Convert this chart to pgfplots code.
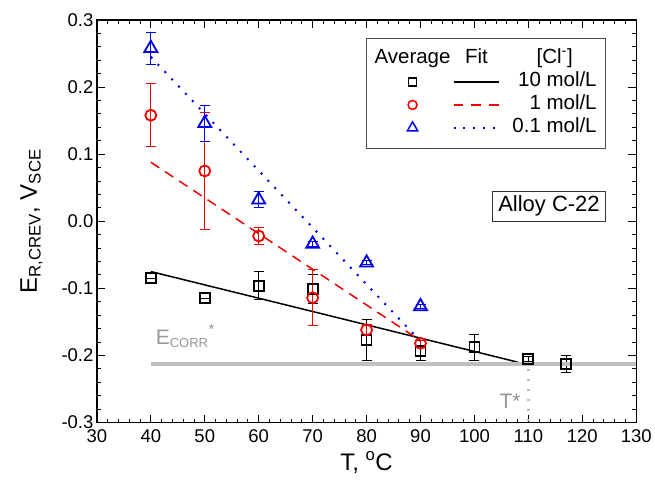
\documentclass[border=0pt]{standalone}
\usepackage{pgfplots}
\pgfplotsset{compat=1.18}
\usepackage{fontspec}
\setmainfont{Liberation Sans}
\definecolor{myred}{RGB}{240,0,0}
\definecolor{myblue}{RGB}{0,0,235}
\definecolor{gline}{RGB}{192,192,192}
\definecolor{gtext}{RGB}{150,150,150}
\pgfplotsset{
  legline/.style={legend image code/.code={\path[draw=none,fill=none] (0pt,0pt) rectangle (58pt,0pt); \draw[##1] (0pt,0pt) -- (46pt,0pt);}},
  legmark/.style={legend image code/.code={\path[draw=none,fill=none] (0pt,0pt) rectangle (76pt,0pt); \draw[##1, only marks] plot coordinates {(38pt,0pt)};}},
}
\begin{document}
\begin{tikzpicture}
\begin{axis}[
  scale only axis,
  width=540pt, height=403pt,
  xmin=30, xmax=130, ymin=-0.3, ymax=0.3,
  xtick={30,40,...,130},
  ytick={-0.3,-0.2,-0.1,0,0.1,0.2,0.3},
  minor x tick num=4, minor y tick num=4,
  tick align=inside,
  major tick length=8pt, minor tick length=4pt,
  every tick/.style={black, line width=0.9pt},
  axis line style={line width=1.3pt},
  /pgf/number format/assume math mode=true,
  tick label style={font=\fontsize{18.5}{20}\selectfont},
  yticklabel style={/pgf/number format/.cd, fixed, fixed zerofill, precision=1},
  xticklabel style={/pgf/number format/.cd, fixed, precision=0, /tikz/yshift=-4pt},
  xlabel={T, \textsuperscript{o}C},
  ylabel={E\textsubscript{R,CREV}, V\textsubscript{SCE}},
  label style={font=\fontsize{24}{26}\selectfont},
  xlabel style={yshift=-2pt},
  ylabel style={yshift=12pt},
  clip=false,
  legend columns=2,
  legend cell align=right,
  legend style={at={(rel axis cs:0.944,0.955)}, anchor=north east,
    draw=black!70, line width=0.8pt,
    font=\fontsize{20.5}{24}\selectfont,
    inner xsep=8pt, inner ysep=9pt, row sep=0pt, column sep=0pt,
    nodes={inner sep=1pt, text height=15pt, text depth=6pt}},
]
% fit lines
\addplot[black, line width=1.5pt, forget plot] coordinates {(40,-0.075) (108,-0.21)};
\addplot[myred, line width=1.5pt, dash pattern=on 10pt off 7pt, forget plot] coordinates {(40,0.088) (90,-0.178)};
\addplot[myblue, line width=2pt, dash pattern=on 2pt off 8pt, forget plot] coordinates {(40,0.245) (90,-0.179)};
% data
\addplot[black, line width=1.8pt, only marks, mark=square, mark size=5pt, forget plot,
  error bars/.cd, y dir=both, y explicit,
  error bar style={line width=1pt},
  error mark options={rotate=90, mark size=5pt, line width=1pt}]
  coordinates {
  (40,-0.085) +- (0,0)
  (50,-0.115) +- (0,0)
  (60,-0.096) +- (0,0.021)
  (70,-0.101) +- (0,0.022)
  (80,-0.177) +- (0,0.031)
  (90,-0.193) +- (0,0.015)
  (100,-0.188) +- (0,0.019)
  (110,-0.205) +- (0,0.004)
  (117,-0.213) +- (0,0.0125)
  };
\addplot[myred, line width=1.8pt, only marks, mark=o, mark size=5.5pt, forget plot,
  error bars/.cd, y dir=both, y explicit,
  error bar style={line width=1pt},
  error mark options={rotate=90, mark size=5pt, line width=1pt}]
  coordinates {
  (40,0.158) +- (0,0.047)
  (50,0.075) +- (0,0.087)
  (60,-0.022) +- (0,0.013)
  (70,-0.114) +- (0,0.042)
  (80,-0.162) +- (0,0.008)
  (90,-0.182) +- (0,0.004)
  };
\addplot[myblue, line width=1.8pt, only marks, mark=triangle, mark size=7.5pt, forget plot,
  error bars/.cd, y dir=both, y explicit,
  error bar style={line width=1pt},
  error mark options={rotate=90, mark size=5pt, line width=1pt}]
  coordinates {
  (40,0.258) +- (0,0.024)
  (50,0.146) +- (0,0.027)
  (60,0.032) +- (0,0.012)
  (70,-0.034) +- (0,0.004)
  (80,-0.062) +- (0,0.003)
  (90,-0.127) +- (0,0.003)
  };
% E_corr line and T* marker line
\addplot[gline, line width=4.5pt, forget plot] coordinates {(40,-0.213) (130,-0.213)};
\addplot[gline, line width=2.5pt, dash pattern=on 2pt off 8pt, forget plot] coordinates {(110,-0.22) (110,-0.3)};
\node[anchor=base west, text=gtext, font=\fontsize{21}{24}\selectfont, inner sep=0pt] at (axis cs:40.9,-0.184) {E\textsubscript{\fontsize{13}{14}\selectfont CORR}\raisebox{3pt}{\textsuperscript{*}}};
\node[anchor=center, text=gtext, font=\fontsize{21}{24}\selectfont, inner sep=0pt] at (axis cs:106.6,-0.269) {T*};
\node[draw=black!80, line width=0.8pt, anchor=north east, font=\fontsize{22}{24}\selectfont, inner xsep=6pt, inner ysep=5pt] at (rel axis cs:0.944,0.576) {Alloy C-22};
% legend
\addlegendimage{legend image code/.code={\path[draw=none,fill=none] (0pt,0pt) rectangle (76pt,0pt); \node[anchor=center, inner sep=0pt] at (38pt,0pt) {Average};}}
\addlegendentry{}
\addlegendimage{legend image code/.code={\path[draw=none,fill=none] (0pt,0pt) rectangle (58pt,0pt); \node[anchor=center, inner sep=0pt] at (23pt,0pt) {Fit};}}
\addlegendentry{\makebox[84pt][c]{[Cl\textsuperscript{-}]}}
\addlegendimage{black, line width=1.5pt, mark=square, mark size=4pt, legmark}
\addlegendentry{}
\addlegendimage{black, line width=1.5pt, legline}
\addlegendentry{10 mol/L}
\addlegendimage{myred, line width=1.5pt, mark=o, mark size=4.5pt, legmark}
\addlegendentry{}
\addlegendimage{myred, line width=1.5pt, dash pattern=on 10pt off 8pt, legline}
\addlegendentry{1 mol/L}
\addlegendimage{myblue, line width=1.5pt, mark=triangle, mark size=6pt, legmark}
\addlegendentry{}
\addlegendimage{myblue, line width=2pt, dash pattern=on 2pt off 8pt, legline}
\addlegendentry{0.1 mol/L}
\end{axis}
\path (current axis.south west) ++(-97pt,-62pt) rectangle ++(655pt,485pt);
\end{tikzpicture}
\end{document}
